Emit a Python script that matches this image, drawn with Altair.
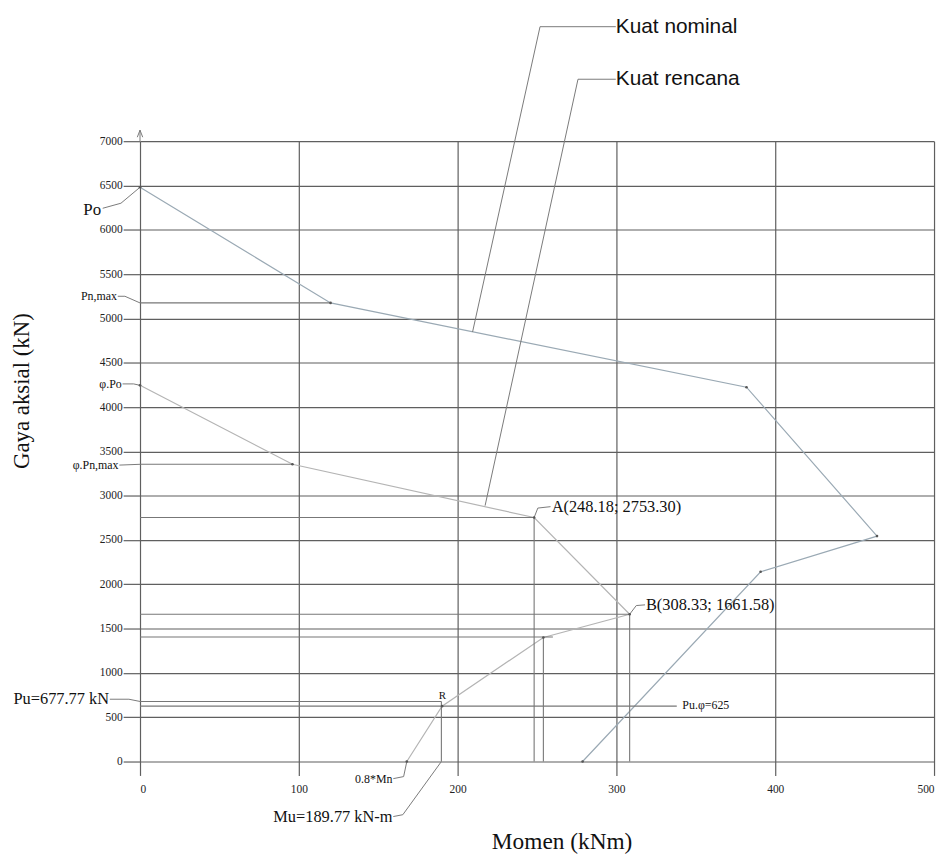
import altair as alt
import pandas as pd

# ---------------- data ----------------
# Kuat nominal (nominal strength) interaction curve
nominal_m = [0, 120, 381.9, 464.1, 390.8, 278.7]
nominal_p = [6480, 5175, 4224, 2544, 2141, 0]
# Kuat rencana (design strength) interaction curve
rencana_m = [0, 96, 248.18, 308.33, 254, 190.2, 168]
rencana_p = [4245, 3354, 2753.30, 1661.58, 1400, 625, 0]

x_ticks = [0, 100, 200, 300, 400, 500]
y_ticks = [0, 500, 1000, 1500, 2000, 2500, 3000, 3500, 4000, 4500, 5000, 5500, 6000, 6500, 7000]

# horizontal guide lines: level and where they end
hline_y = [5175, 3354, 2753.30, 1661.58, 1405, 677.77, 625]
hline_x_end = [120, 96, 248.18, 308.33, 260, 189.77, 338]
# vertical guide lines: position and top
vline_x = [248.18, 254, 308.33, 189.77]
vline_y_end = [2753.30, 1400, 1661.58, 677.77]

# leader lines (id, moment, axial)
leader_id = [1, 1, 1, 2, 2, 2, 3, 3, 3, 4, 4, 4, 5, 5, 5, 6, 6, 7, 7, 7,
             8, 8, 8, 9, 9, 9, 10, 10, 10, 11, 11, 11, 12, 12, 13, 13, 13]
leader_m = [299.6, 251.9, 209.4, 299.6, 275.8, 217.3, -23.5, -12, 0, -14, -9.5, 0,
            -11, -4, 0, -13, 0, -19, -7, 0,
            159.5, 166, 168, 159.5, 165.5, 189.77, 248.18, 250.5, 258.5,
            308.33, 312.5, 318, 0, 0, -1.7, 0, 1.7]
leader_p = [8292, 8292, 4847, 7699, 7699, 2887, 6243, 6300, 6480, 5250, 5250, 5175,
            4261, 4261, 4245, 3345, 3354, 703, 703, 677.77,
            -193, -170, 0, -621, -600, 0, 2753.30, 2860, 2876,
            1661.58, 1760, 1768, 7000, 7125, 7045, 7125, 7045]

# annotation texts
big_labels = ["Kuat nominal", "Kuat rencana"]
big_m = [299.6, 299.6]
big_p = [8292, 7699]

right_labels = ["Po", "Pu=677.77 kN", "Mu=189.77 kN-m"]
right_m = [-24.5, -19.5, 159]
right_p = [6222, 703, -621]
right_size = [17, 16.5, 16.5]

small_right = ["Pn,max", "φ.Po", "φ.Pn,max", "0.8*Mn"]
small_right_m = [-14.5, -11.5, -13.5, 159]
small_right_p = [5250, 4261, 3345, -193]

left_labels = ["A(248.18; 2753.30)", "B(308.33; 1661.58)"]
left_m = [259.2, 318.6]
left_p = [2876, 1768]

small_left = ["Pu.φ=625"]
small_left_m = [341.5]
small_left_p = [640]

r_label = ["R"]
r_m = [190.4]
r_p = [741]

x_title = ["Momen (kNm)"]
x_title_m = [265.8]
x_title_p = [-991]
y_title = ["Gaya aksial (kN)"]
y_title_m = [-74]
y_title_p = [4180]

# ---------------- frames ----------------
curves = pd.DataFrame({
    "m": nominal_m + rencana_m,
    "p": nominal_p + rencana_p,
    "s": ["nominal"] * len(nominal_m) + ["rencana"] * len(rencana_m),
    "o": list(range(len(nominal_m))) + list(range(len(rencana_m))),
})
hl = pd.DataFrame({"m": [0] * len(hline_y), "m2": hline_x_end, "p": hline_y})
vl = pd.DataFrame({"m": vline_x, "p": [0] * len(vline_x), "p2": vline_y_end})
ld = pd.DataFrame({"id": leader_id, "m": leader_m, "p": leader_p,
                   "o": list(range(len(leader_id)))})

SERIF = "Liberation Serif"
SANS = "Liberation Sans"
GRID = "#5f5f5f"

xs = alt.Scale(domain=[0, 500], nice=False, zero=False)
ys = alt.Scale(domain=[0, 7000], nice=False, zero=False)

x_enc = alt.X("m:Q", scale=xs, axis=alt.Axis(
    values=x_ticks, grid=True, gridColor=GRID, gridWidth=1.2, domain=False,
    tickColor=GRID, tickSize=14, tickWidth=1.2, labelFont=SERIF, labelFontSize=11.5,
    labelPadding=8, labelColor="#222", title=None, format="d"))
y_enc = alt.Y("p:Q", scale=ys, axis=alt.Axis(
    values=y_ticks, grid=True, gridColor=GRID, gridWidth=1.2, domain=False,
    tickColor=GRID, tickSize=17, tickWidth=1.2, labelFont=SERIF, labelFontSize=11.5,
    labelPadding=1, labelColor="#222", title=None, format="d"))

curve_layer = alt.Chart(curves).mark_line(strokeWidth=1.2).encode(
    x=x_enc, y=y_enc, detail="s:N", order="o:Q",
    color=alt.Color("s:N", scale=alt.Scale(domain=["nominal", "rencana"],
                                            range=["#9aa9b4", "#b4b4b4"]), legend=None))
dots = alt.Chart(curves).mark_point(filled=True, size=7, color="#555", opacity=1).encode(
    x=alt.X("m:Q", scale=xs), y=alt.Y("p:Q", scale=ys))

hrules = alt.Chart(hl).mark_rule(color="#777777", strokeWidth=1.1).encode(
    x=alt.X("m:Q", scale=xs), x2="m2:Q", y=alt.Y("p:Q", scale=ys))
vrules = alt.Chart(vl).mark_rule(color="#777777", strokeWidth=1.1).encode(
    x=alt.X("m:Q", scale=xs), y=alt.Y("p:Q", scale=ys), y2="p2:Q")
leaders = alt.Chart(ld).mark_line(color="#7a7a7a", strokeWidth=1).encode(
    x=alt.X("m:Q", scale=xs), y=alt.Y("p:Q", scale=ys), detail="id:N", order="o:Q")


def texts(labels, ms, ps, font, size, align, angle=0, baseline="middle"):
    df = pd.DataFrame({"t": labels, "m": ms, "p": ps})
    return alt.Chart(df).mark_text(font=font, fontSize=size, align=align,
                                   baseline=baseline, angle=angle, color="#111").encode(
        x=alt.X("m:Q", scale=xs), y=alt.Y("p:Q", scale=ys), text="t:N")


t_big = texts(big_labels, big_m, big_p, SANS, 21, "left")
t_right = alt.Chart(pd.DataFrame({"t": right_labels, "m": right_m, "p": right_p,
                                  "s": right_size})).mark_text(
    font=SERIF, align="right", baseline="middle", color="#111").encode(
    x=alt.X("m:Q", scale=xs), y=alt.Y("p:Q", scale=ys), text="t:N",
    size=alt.Size("s:Q", scale=None, legend=None))
t_small_r = texts(small_right, small_right_m, small_right_p, SERIF, 12, "right")
t_left = texts(left_labels, left_m, left_p, SERIF, 16.5, "left")
t_small_l = texts(small_left, small_left_m, small_left_p, SERIF, 12, "left")
t_r = texts(r_label, r_m, r_p, SERIF, 11, "center")
t_xt = texts(x_title, x_title_m, x_title_p, SERIF, 23.5, "center", baseline="alphabetic")
t_yt = texts(y_title, y_title_m, y_title_p, SERIF, 23, "center", angle=270)

chart = alt.layer(
    curve_layer, hrules, vrules, leaders, dots,
    t_big, t_right, t_small_r, t_left, t_small_l, t_r, t_xt, t_yt
).properties(
    width=800, height=625,
    padding={"left": 133, "top": 131, "right": 5, "bottom": 93},
    autosize=alt.AutoSizeParams(type="none"),
    background="white",
).configure_view(stroke=None)

chart.save("out.html", embed_options={"renderer": "svg", "actions": False})
